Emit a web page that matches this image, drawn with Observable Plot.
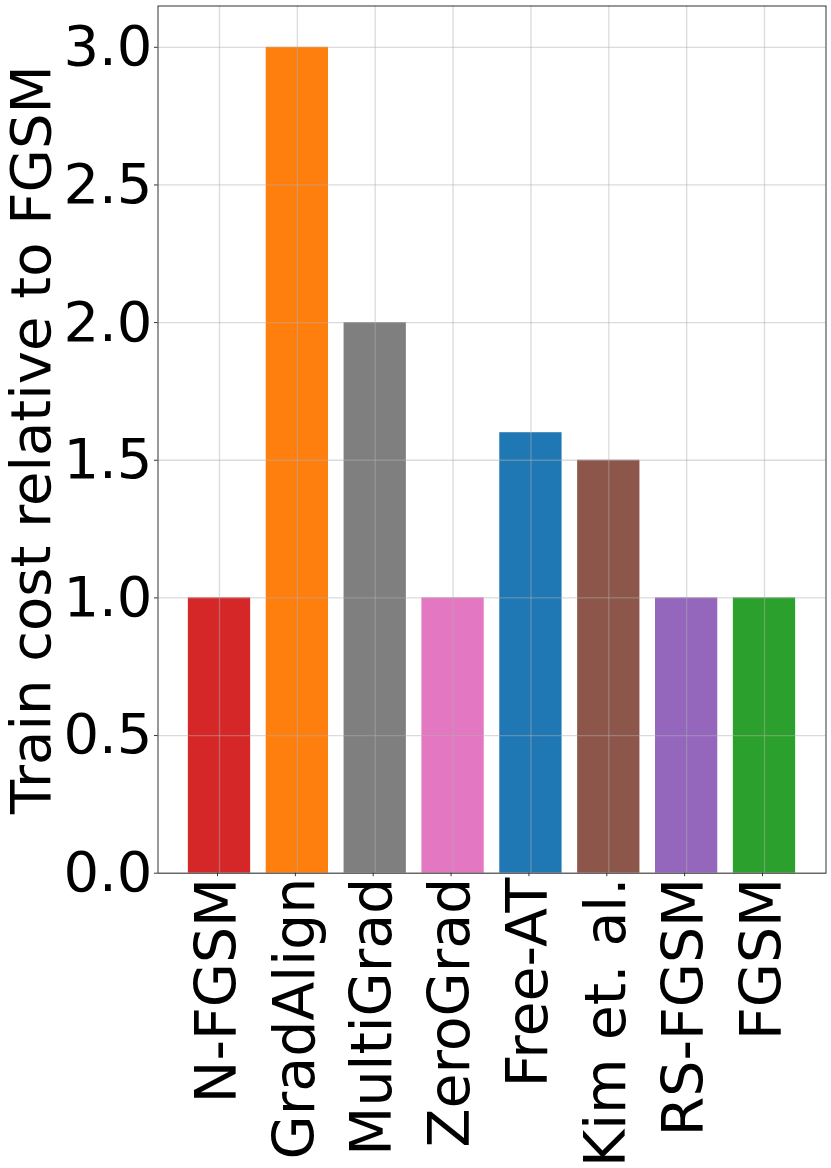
<!DOCTYPE html>
<html>
<head>
<meta charset="utf-8">
<script src="https://cdn.jsdelivr.net/npm/d3@7"></script>
<script src="https://cdn.jsdelivr.net/npm/@observablehq/plot@0.6"></script>
<style>
  html, body { margin: 0; padding: 0; background: #fff; }
  svg { display: block; }
</style>
</head>
<body>
<div id="chart"></div>
<script>
const methods = ["N-FGSM", "GradAlign", "MultiGrad", "ZeroGrad", "Free-AT", "Kim et. al.", "RS-FGSM", "FGSM"];
const costs = [1.0, 3.0, 2.0, 1.0, 1.6, 1.5, 1.0, 1.0];
const colors = ["#d62728", "#ff7f0e", "#7f7f7f", "#e377c2", "#1f77b4", "#8c564b", "#9467bd", "#2ca02c"];
const yTicks = [0, 0.5, 1.0, 1.5, 2.0, 2.5, 3.0];
const yLabel = "Train cost relative to FGSM";

const data = methods.map((m, i) => ({method: m, cost: costs[i], color: colors[i]}));

const marginLeft = 157.5, marginTop = 5.5, marginRight = 5.5, marginBottom = 295.3;

const chart = Plot.plot({
  width: 831,
  height: 1168,
  marginLeft, marginTop, marginRight, marginBottom,
  style: {fontFamily: "DejaVu Sans", background: "#fff", color: "#000"},
  x: {type: "band", domain: methods, paddingInner: 0.2, paddingOuter: 0.39, align: 0.5, round: false, label: null},
  y: {domain: [0, 3.15], label: null},
  marks: [
    Plot.barY(data, {x: "method", y: "cost", fill: "color"}),
    Plot.gridY(yTicks, {stroke: "#b0b0b0", strokeOpacity: 0.45, strokeWidth: 1.3}),
    Plot.gridX(methods, {stroke: "#b0b0b0", strokeOpacity: 0.45, strokeWidth: 1.3}),
    Plot.axisY(yTicks, {
      tickFormat: d => d.toFixed(1), fontSize: 56, tickSize: 3.5, tickPadding: 2,
      stroke: "#333", label: null
    }),
    Plot.axisX({
      tickRotate: -90, fontSize: 57, tickSize: 3.5, tickPadding: 1, dx: -2,
      textAnchor: "end", lineAnchor: "middle", stroke: "#333", label: null
    }),
    Plot.frame({stroke: "#333", strokeWidth: 1}),
    Plot.text([yLabel], {
      text: d => d, frameAnchor: "left", rotate: -90, dx: 49 - marginLeft,
      lineAnchor: "bottom", textAnchor: "middle", fontSize: 56, fill: "#000"
    })
  ]
});
document.getElementById("chart").appendChild(chart);
</script>
</body>
</html>
